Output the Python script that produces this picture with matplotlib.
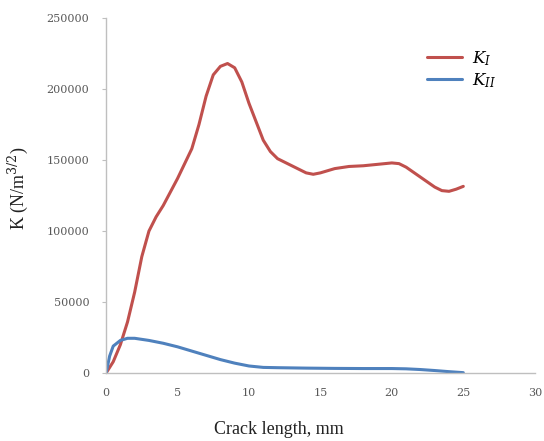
import numpy as np
from matplotlib import pyplot as plt

# crack length (mm) and stress intensity factors
x_k1 = [0, 0.5, 1, 1.5, 2, 2.5, 3, 3.5, 4, 5, 6, 6.5, 7, 7.5, 8, 8.5, 9, 9.5,
        10, 10.5, 11, 11.5, 12, 13, 14, 14.5, 15, 16, 17, 18, 19, 20, 20.5,
        21, 22, 23, 23.5, 24, 24.5, 25]
k1 = [0, 8000, 20000, 36000, 57000, 82000, 100000, 110000, 118000, 137000,
      158000, 175000, 195000, 210000, 216000, 218000, 215000, 205000, 190000,
      177000, 164000, 156000, 151000, 146000, 141000, 140000, 141000, 144000,
      145500, 146000, 147000, 148000, 147500, 145000, 138000, 131000, 128500,
      128000, 129500, 131500]

x_k2 = [0, 0.25, 0.5, 1, 1.5, 2, 3, 4, 5, 6, 7, 8, 9, 10, 11, 12, 14, 16, 18,
        20, 21, 22, 23, 24, 25]
k2 = [0, 12000, 19000, 23000, 24500, 24500, 23000, 21000, 18500, 15500, 12500,
      9500, 7000, 5000, 4000, 3800, 3500, 3300, 3200, 3200, 3000, 2500, 1800,
      1000, 300]

x_ticks = [0, 5, 10, 15, 20, 25, 30]
y_ticks = [0, 50000, 100000, 150000, 200000, 250000]

serif = ["Liberation Serif", "DejaVu Serif"]
grey = "#595959"
plt.rcParams["mathtext.fontset"] = "dejavuserif"

fig = plt.figure(figsize=(5.44, 4.41), dpi=100)
ax = fig.add_axes([0.195, 0.154, 0.788, 0.805])

ax.plot(x_k1, k1, color="#C0504D", lw=2.2, label="$K_I$",
        solid_joinstyle="round", solid_capstyle="round")
ax.plot(x_k2, k2, color="#4F81BD", lw=2.2, label="$K_{II}$",
        solid_joinstyle="round", solid_capstyle="round")

ax.set_xlim(0, 30)
ax.set_ylim(0, 250000)
ax.set_xticks(x_ticks)
ax.set_yticks(y_ticks)
ax.set_xticklabels([str(t) for t in x_ticks], family="DejaVu Serif", fontsize=8, color=grey)
ax.set_yticklabels([str(t) for t in y_ticks], family="DejaVu Serif", fontsize=8, color=grey)
ax.tick_params(axis="x", length=0, pad=11)
ax.tick_params(axis="y", length=3, color="#BFBFBF", pad=9)

for s in ["top", "right"]:
    ax.spines[s].set_visible(False)
for s in ["left", "bottom"]:
    ax.spines[s].set_color("#BFBFBF")
    ax.spines[s].set_linewidth(1.0)

ax.set_xlabel("Crack length, mm", family=serif, fontsize=13, color="#222222")
ax.xaxis.set_label_coords(0.403, -0.135)
ax.set_ylabel("K (N/m$^{3/2}$)", family=serif, fontsize=13, color="#222222")
ax.yaxis.set_label_coords(-0.178, 0.52)

leg = ax.legend(loc="upper left", bbox_to_anchor=(0.748, 0.913), frameon=False,
                handlelength=2.1, handletextpad=0.6, fontsize=12,
                labelspacing=0.2, borderpad=0, borderaxespad=0)

fig.savefig("out.png", dpi=100)
